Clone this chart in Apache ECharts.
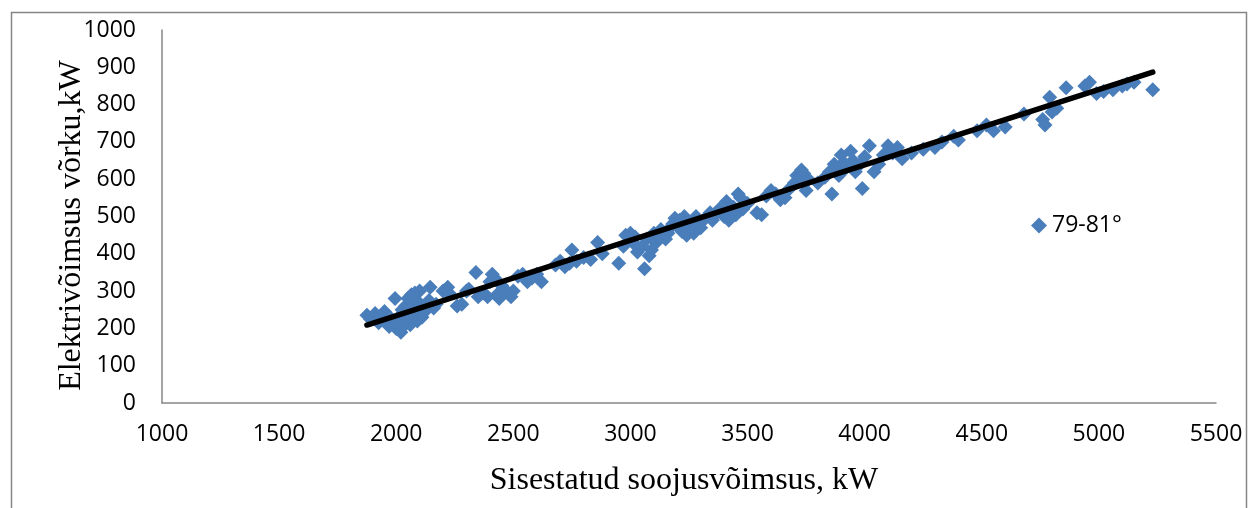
<!DOCTYPE html>
<html>
<head>
<meta charset="utf-8">
<script src="https://cdn.jsdelivr.net/npm/echarts@6/dist/echarts.min.js"></script>
<style>html,body{margin:0;padding:0;background:#fff}#c{width:1253px;height:508px}</style>
</head>
<body>
<div id="c"></div>
<script>
const seriesName = '79-81°';
const xTitle = 'Sisestatud soojusvõimsus, kW';
const yTitle = 'Elektrivõimsus võrku,kW';
const xTicks = [1000, 1500, 2000, 2500, 3000, 3500, 4000, 4500, 5000, 5500];
const yTicks = [0, 100, 200, 300, 400, 500, 600, 700, 800, 900, 1000];

const heatInput = [
  1875,1890,1910,1925,1940,1950,1960,1970,1980,1990,1995,2000,2010,2015,2020,2025,2030,2040,2045,2050,
  2055,2060,2065,2070,2075,2080,2085,2090,2095,2100,2105,2110,2120,2130,2140,2145,2160,2170,2200,2220,
  2225,2260,2280,2300,2310,2340,2350,2370,2390,2400,2410,2420,2430,2440,2450,2470,2490,2500,2520,2540,
  2560,2580,2600,2620,2680,2700,2720,2740,2750,2770,2800,2830,2860,2880,2950,2970,2980,3000,3010,3020,
  3030,3050,3060,3070,3080,3090,3100,3110,3120,3130,3150,3160,3170,3180,3190,3200,3210,3220,3230,3240,
  3250,3260,3270,3280,3290,3300,3320,3340,3350,3360,3380,3400,3410,3420,3430,3440,3450,3460,3470,3480,
  3500,3540,3560,3580,3600,3620,3640,3660,3680,3700,3710,3720,3730,3740,3750,3760,3800,3830,3850,3860,
  3870,3880,3890,3900,3910,3920,3940,3950,3960,3980,3990,4000,4020,4040,4060,4080,4100,4120,4140,4160,
  4200,4250,4300,4330,4380,4400,4480,4520,4550,4600,4680,4760,4770,4790,4800,4820,4860,4940,4960,4990,
  5020,5060,5100,5120,5150,5230
];
const powerOut = [
  235,225,240,215,230,245,220,205,225,210,280,200,230,215,190,250,205,260,220,280,
  240,210,290,265,230,295,250,220,270,300,245,230,260,250,275,310,255,265,300,310,
  295,260,265,300,305,350,285,295,285,325,345,335,290,280,315,300,285,300,340,345,
  325,335,345,325,370,380,365,375,410,380,390,385,430,400,375,420,450,455,430,445,
  405,420,360,440,395,410,455,430,450,465,440,455,470,480,495,475,490,460,500,450,
  470,485,455,500,480,470,495,510,490,505,520,500,540,490,515,525,505,560,550,520,
  535,510,505,555,570,560,545,550,575,590,610,600,625,615,570,600,590,605,620,560,
  640,625,610,665,645,630,675,650,620,640,575,660,690,620,640,665,690,670,685,655,
  670,680,685,700,715,705,730,745,730,740,775,760,745,820,780,790,845,850,860,830,
  835,840,850,855,860,840
];
const trendX = [1875, 5230];
const trendY = [209, 887];

const pts = heatInput.map((x, i) => [x, powerOut[i]]);
const trend = trendX.map((x, i) => [x, trendY[i]]);

const chart = echarts.init(document.getElementById('c'));
const axisFont = { fontFamily: 'Open Sans', fontSize: 23, color: '#000', formatter: v => String(v) };
chart.setOption({
  animation: false,
  backgroundColor: '#fff',
  grid: { left: 162, right: 37, top: 30, bottom: 105 },
  xAxis: {
    type: 'value', min: xTicks[0], max: xTicks[xTicks.length - 1], interval: 500,
    axisLine: { show: true, lineStyle: { color: '#868686', width: 1.5 } },
    axisTick: { show: false }, splitLine: { show: false },
    axisLabel: Object.assign({ margin: 20 }, axisFont),
    name: xTitle, nameLocation: 'middle', nameGap: 62,
    nameTextStyle: { fontFamily: 'Liberation Serif', fontSize: 32, color: '#000', padding: [0, 10, 0, 0] }
  },
  yAxis: {
    type: 'value', min: yTicks[0], max: yTicks[yTicks.length - 1], interval: 100,
    axisLine: { show: true, lineStyle: { color: '#868686', width: 1.5 } },
    axisTick: { show: false }, splitLine: { show: false },
    axisLabel: Object.assign({ margin: 26 }, axisFont),
    name: yTitle, nameLocation: 'middle', nameGap: 74, nameRotate: 90, nameMoveOverlap: false,
    nameTextStyle: { fontFamily: 'Liberation Serif', fontSize: 32, color: '#000', padding: [0, 18, 0, 0] }
  },
  legend: {
    data: [{ name: seriesName, icon: 'diamond' }],
    left: 1026, top: 209, itemWidth: 16, itemHeight: 16, itemGap: 10,
    textStyle: { fontFamily: 'Open Sans', fontSize: 23, color: '#000' }
  },
  graphic: [{
    type: 'rect', left: 9, top: 10, silent: true,
    shape: { width: 1235, height: 520 },
    style: { fill: 'none', stroke: '#868686', lineWidth: 1.5 }
  }],
  series: [
    {
      name: seriesName, type: 'scatter', data: pts, symbol: 'diamond', symbolSize: 15,
      itemStyle: { color: '#4a7ebb', opacity: 1 }, z: 2
    },
    {
      name: 'trend', type: 'line', data: trend, symbol: 'none',
      lineStyle: { color: '#000', width: 5.5, cap: 'round' }, z: 3
    }
  ]
});
</script>
</body>
</html>
